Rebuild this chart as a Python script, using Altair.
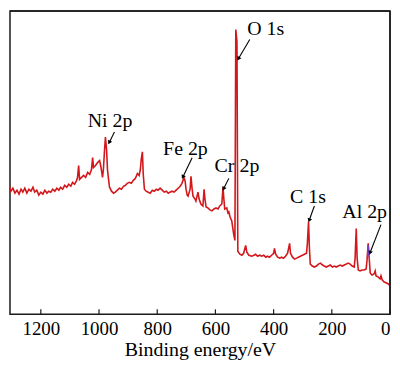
import math
import altair as alt
import pandas as pd

# XPS survey spectrum
binding_energy = [
    1323, 1316, 1309, 1303, 1296, 1289, 1282, 1275, 1268, 1262, 1255, 1248, 1241, 1234, 1227, 1221,
    1214, 1207, 1200, 1193, 1186, 1179, 1173, 1166, 1159, 1152, 1145, 1138, 1132, 1125, 1118, 1111,
    1104, 1097, 1091, 1084, 1077, 1074, 1070, 1067, 1060, 1053, 1046, 1039, 1032, 1026, 1022, 1019,
    1012, 1005, 998, 995, 991, 988, 985, 981, 978, 974, 971, 968, 964, 957, 950, 944,
    937, 930, 923, 916, 909, 903, 896, 889, 882, 875, 868, 862, 858, 855, 851, 848,
    844, 838, 831, 824, 817, 810, 803, 797, 790, 783, 776, 769, 762, 756, 749, 742,
    735, 728, 721, 715, 708, 704, 701, 697, 694, 687, 684, 680, 677, 670, 667, 663,
    660, 656, 650, 643, 639, 636, 632, 626, 619, 612, 605, 598, 591, 585, 578, 574,
    571, 568, 561, 557, 554, 550, 544, 540, 537, 533, 530, 526, 523, 516, 509, 503,
    496, 492, 485, 475, 468, 462, 455, 448, 441, 434, 427, 421, 414, 407, 400, 397,
    393, 386, 379, 373, 366, 359, 352, 345, 342, 335, 328, 321, 315, 308, 301, 294,
    287, 284, 280, 277, 274, 267, 260, 253, 246, 239, 232, 226, 219, 212, 205, 198,
    191, 185, 178, 171, 164, 157, 150, 144, 137, 130, 123, 120, 116, 113, 109, 103,
    96, 89, 82, 79, 75, 72, 68, 62, 55, 51, 48, 41, 34, 31, 27, 21,
    14, 7, 0,
]
intensity = [
    132, 127, 131, 125, 128, 123, 126, 122, 127, 124, 128, 123, 127, 125, 129, 124,
    126, 121, 124, 122, 126, 123, 125, 124, 127, 125, 128, 126, 129, 127, 131, 129,
    132, 130, 134, 132, 136, 139, 151, 137, 139, 141, 139, 144, 142, 147, 159, 149,
    151, 154, 156, 152, 145, 139, 147, 167, 180, 167, 147, 139, 129, 125, 123, 124,
    126, 128, 127, 130, 131, 133, 134, 133, 136, 138, 143, 141, 147, 157, 165, 142,
    127, 125, 124, 123, 126, 125, 127, 126, 128, 126, 124, 125, 123, 124, 125, 124,
    126, 128, 130, 133, 139, 135, 127, 121, 120, 127, 140, 127, 120, 117, 115, 120,
    124, 117, 112, 110, 127, 117, 109, 108, 106, 105, 107, 108, 107, 110, 112, 129,
    117, 107, 108, 103, 104, 99, 95, 87, 81, 75, 289, 277, 64, 61, 60, 62,
    70, 63, 60, 59, 60, 61, 59, 60, 59, 60, 58, 59, 58, 60, 62, 67,
    61, 58, 57, 58, 57, 59, 62, 72, 62, 58, 56, 57, 58, 59, 60, 61,
    62, 72, 94, 67, 51, 49, 48, 49, 51, 52, 50, 49, 48, 49, 50, 48,
    49, 48, 49, 50, 49, 50, 51, 52, 51, 49, 48, 57, 87, 57, 45, 44,
    45, 45, 46, 55, 72, 59, 42, 40, 41, 44, 39, 38, 36, 39, 35, 33,
    32, 31, 29,
]

# faint blue trace visible at the Al 2p peak
blue_energy = [77, 75, 73]
blue_intensity = [58, 70, 60]

tick_values = [0, 200, 400, 600, 800, 1000, 1200]

peak_labels = ["O 1s", "Ni 2p", "Fe 2p", "Cr 2p", "C 1s", "Al 2p"]
label_energy = [427, 962, 703, 526, 282, 87]
label_intensity = [284, 190, 162, 144, 113, 98]
arrow_from_energy = [482, 947, 680, 554, 260, 31]
arrow_from_intensity = [279, 185, 159, 138, 110, 91]
arrow_to_energy = [520, 964, 711, 571, 277, 68]
arrow_to_intensity = [260, 175, 140, 128, 96, 63]

W, H = 382, 305
XMAX, YMAX = 1306, 308
FONT = "Times New Roman, Liberation Serif, serif"
FRAME = "#1a1a1a"

spec = pd.DataFrame({"be": binding_energy, "I": intensity})
blue = pd.DataFrame({"be": blue_energy, "I": blue_intensity})
ticks = pd.DataFrame({"be": tick_values})
one = pd.DataFrame({"k": [0]})

sx = W / XMAX
sy = H / YMAX
ann = pd.DataFrame({
    "label": peak_labels,
    "lx": label_energy, "ly": label_intensity,
    "x1": arrow_from_energy, "y1": arrow_from_intensity,
    "x2": arrow_to_energy, "y2": arrow_to_intensity,
})
ann["angle"] = [
    math.degrees(math.atan2(-(b - a) * sx, (d - c) * sy)) % 360
    for a, b, c, d in zip(ann.x1, ann.x2, ann.y1, ann.y2)
]

xscale = alt.Scale(domain=[0, XMAX], reverse=True, nice=False, zero=False)
yscale = alt.Scale(domain=[0, YMAX], nice=False, zero=False)
xaxis = alt.Axis(
    values=tick_values, format="d", ticks=False, domain=False, grid=False,
    labelFont=FONT, labelFontSize=19, labelColor="black", labelPadding=5,
    titleFont=FONT, titleFontSize=20, titleFontWeight="normal", titleColor="black",
    titlePadding=1, labelFlush=True, labelOverlap=False,
)


def X(field):
    return alt.X(field, type="quantitative", scale=xscale, axis=xaxis, title="Binding energy/eV")


line = alt.Chart(spec).mark_line(color="#d2181c", strokeWidth=1.6, clip=True).encode(
    x=X("be"), y=alt.Y("I:Q", scale=yscale, axis=None)
)
blue_line = alt.Chart(blue).mark_line(color="#7a3cd0", strokeWidth=1.6, clip=True).encode(
    x=X("be"), y=alt.Y("I:Q", scale=yscale, axis=None)
)
tick_marks = alt.Chart(ticks).mark_rule(color=FRAME, strokeWidth=1.2).encode(
    x=X("be"), y=alt.value(H), y2=alt.value(H - 5)
)
frame_top = alt.Chart(one).mark_rule(color=FRAME, strokeWidth=1.5).encode(
    x=alt.value(0), x2=alt.value(W), y=alt.value(0)
)
frame_right = alt.Chart(one).mark_rule(color=FRAME, strokeWidth=1.5).encode(
    x=alt.value(W), y=alt.value(0), y2=alt.value(H)
)
arrows = alt.Chart(ann).mark_rule(color="black", strokeWidth=1.1).encode(
    x=X("x1"), x2="x2:Q",
    y=alt.Y("y1:Q", scale=yscale, axis=None), y2="y2:Q",
)
heads = alt.Chart(ann).mark_point(shape="triangle", filled=True, size=22, color="black", opacity=1).encode(
    x=X("x2"), y=alt.Y("y2:Q", scale=yscale, axis=None), angle=alt.Angle("angle:Q", scale=None)
)
texts = alt.Chart(ann).mark_text(
    font=FONT, fontSize=20, color="black", align="center", baseline="alphabetic"
).encode(
    x=X("lx"), y=alt.Y("ly:Q", scale=yscale, axis=None), text="label:N"
)

chart = alt.layer(
    line, blue_line, tick_marks, frame_top, frame_right, arrows, heads, texts
).properties(
    width=W, height=H, padding={"left": 1, "top": 1, "right": 1, "bottom": 0}
).configure_view(stroke=FRAME, strokeWidth=1.5)

chart.save("out.html", embed_options={"renderer": "svg", "actions": False})
